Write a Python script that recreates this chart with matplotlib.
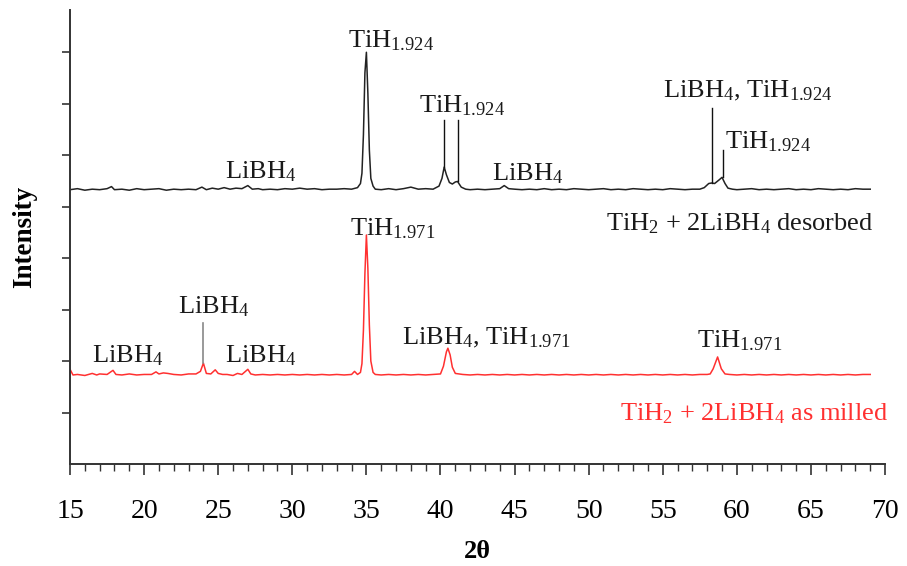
import matplotlib
matplotlib.use("Agg")
import matplotlib.pyplot as plt
import numpy as np

# XRD patterns (intensity in arbitrary offset units)
desorbed_2theta = [15.0, 15.5, 16.0, 16.5, 17.0, 17.5, 17.8, 18.0, 18.5, 19.0, 19.5, 20.0, 20.5, 21.0,
                   21.5, 22.0, 22.5, 23.0, 23.5, 23.9, 24.2, 24.6, 25.0, 25.4, 25.8, 26.2, 26.6, 27.0,
                   27.3, 27.7, 28.0, 28.5, 29.0, 29.5, 30.0, 30.5, 31.0, 31.5, 32.0, 32.5, 33.0, 33.5,
                   34.0, 34.4, 34.6, 34.7, 34.8, 34.9, 35.0, 35.1, 35.2, 35.3, 35.45, 35.6, 36.0, 36.5,
                   37.0, 37.5, 38.0, 38.5, 39.0, 39.5, 39.9, 40.1, 40.25, 40.4, 40.6, 40.8, 41.0, 41.15,
                   41.4, 41.7, 42.0, 42.5, 43.0, 43.5, 44.0, 44.3, 44.6, 45.0, 45.5, 46.0, 46.5, 47.0,
                   47.5, 48.0, 48.5, 49.0, 49.5, 50.0, 50.5, 51.0, 51.5, 52.0, 52.5, 53.0, 53.5, 54.0,
                   54.5, 55.0, 55.5, 56.0, 56.5, 57.0, 57.5, 57.8, 58.1, 58.3, 58.5, 58.8, 59.0, 59.2,
                   59.4, 59.7, 60.0, 60.5, 61.0, 61.5, 62.0, 62.5, 63.0, 63.5, 64.0, 64.5, 65.0, 65.5,
                   66.0, 66.5, 67.0, 67.5, 68.0, 68.5, 69.0]
desorbed_int = [5.33, 5.35, 5.32, 5.34, 5.33, 5.35, 5.39, 5.33, 5.34, 5.32, 5.35, 5.33, 5.34, 5.35,
                5.32, 5.34, 5.33, 5.34, 5.33, 5.38, 5.33, 5.36, 5.34, 5.37, 5.34, 5.36, 5.35, 5.41,
                5.34, 5.35, 5.33, 5.34, 5.33, 5.35, 5.34, 5.36, 5.34, 5.35, 5.33, 5.34, 5.34, 5.35,
                5.34, 5.37, 5.45, 5.65, 6.40, 7.60, 8.00, 7.20, 6.10, 5.55, 5.40, 5.34, 5.33, 5.35,
                5.33, 5.35, 5.38, 5.34, 5.35, 5.34, 5.40, 5.55, 5.77, 5.62, 5.47, 5.44, 5.48, 5.49,
                5.38, 5.34, 5.33, 5.34, 5.33, 5.34, 5.35, 5.41, 5.35, 5.34, 5.33, 5.34, 5.33, 5.35,
                5.33, 5.34, 5.33, 5.35, 5.34, 5.33, 5.34, 5.35, 5.33, 5.34, 5.33, 5.35, 5.34, 5.33,
                5.34, 5.33, 5.35, 5.34, 5.33, 5.34, 5.34, 5.37, 5.45, 5.46, 5.45, 5.52, 5.57, 5.45,
                5.36, 5.34, 5.33, 5.34, 5.35, 5.33, 5.34, 5.33, 5.34, 5.35, 5.33, 5.34, 5.33, 5.35,
                5.34, 5.33, 5.34, 5.33, 5.35, 5.34, 5.34]

milled_2theta = [15.0, 15.2, 15.5, 16.0, 16.5, 16.8, 17.0, 17.5, 17.9, 18.1, 18.5, 19.0, 19.5, 20.0,
                 20.5, 20.8, 21.0, 21.3, 21.6, 22.0, 22.5, 23.0, 23.5, 23.8, 24.0, 24.2, 24.5, 24.8,
                 25.0, 25.3, 25.6, 26.0, 26.3, 26.6, 27.0, 27.2, 27.5, 28.0, 28.5, 29.0, 29.5, 30.0,
                 30.5, 31.0, 31.5, 32.0, 32.5, 33.0, 33.5, 34.0, 34.2, 34.4, 34.6, 34.7, 34.8, 34.9,
                 35.0, 35.1, 35.2, 35.3, 35.45, 35.6, 36.0, 36.5, 37.0, 37.5, 38.0, 38.5, 39.0, 39.5, 40.0,
                 40.2, 40.4, 40.5, 40.65, 40.8, 41.0, 41.5, 42.0, 42.5, 43.0, 43.5, 44.0, 44.5, 45.0,
                 45.5, 46.0, 46.5, 47.0, 47.5, 48.0, 48.5, 49.0, 49.5, 50.0, 50.5, 51.0, 51.5, 52.0,
                 52.5, 53.0, 53.5, 54.0, 54.5, 55.0, 55.5, 56.0, 56.5, 57.0, 57.5, 58.0, 58.2, 58.4,
                 58.7, 58.95, 59.2, 59.5, 60.0, 60.5, 61.0, 61.5, 62.0, 62.5, 63.0, 63.5, 64.0, 64.5,
                 65.0, 65.5, 66.0, 66.5, 67.0, 67.5, 68.0, 68.5, 69.0]
milled_int = [1.84, 1.73, 1.74, 1.72, 1.76, 1.73, 1.75, 1.74, 1.82, 1.74, 1.73, 1.75, 1.73, 1.74,
              1.74, 1.79, 1.75, 1.77, 1.76, 1.74, 1.73, 1.75, 1.75, 1.80, 1.96, 1.76, 1.75, 1.83,
              1.76, 1.74, 1.74, 1.72, 1.76, 1.74, 1.84, 1.75, 1.73, 1.74, 1.73, 1.74, 1.73, 1.74,
              1.73, 1.74, 1.73, 1.74, 1.73, 1.74, 1.73, 1.74, 1.80, 1.74, 1.78, 1.95, 2.60, 3.70,
              4.45, 3.80, 2.70, 2.00, 1.78, 1.74, 1.73, 1.74, 1.73, 1.74, 1.73, 1.74, 1.73, 1.74, 1.75,
              1.90, 2.18, 2.25, 2.12, 1.88, 1.76, 1.74, 1.73, 1.74, 1.73, 1.74, 1.73, 1.74, 1.73,
              1.74, 1.73, 1.74, 1.73, 1.74, 1.73, 1.74, 1.73, 1.74, 1.73, 1.74, 1.73, 1.74, 1.73,
              1.74, 1.73, 1.74, 1.73, 1.74, 1.73, 1.74, 1.73, 1.74, 1.73, 1.74, 1.74, 1.75, 1.85,
              2.08, 1.85, 1.75, 1.74, 1.73, 1.74, 1.73, 1.74, 1.73, 1.74, 1.73, 1.74, 1.73, 1.74,
              1.73, 1.74, 1.73, 1.74, 1.73, 1.74, 1.73, 1.74, 1.74]

# peak marker lines: (2theta, bottom, top)
desorbed_markers = [(40.25, 5.77, 6.68), (41.15, 5.49, 6.68), (58.3, 5.46, 6.91), (59.05, 5.57, 6.10)]
milled_markers = [(24.0, 1.96, 2.74)]

plt.rcParams['font.family'] = ['Liberation Serif', 'DejaVu Serif']
plt.rcParams['mathtext.fontset'] = 'custom'
plt.rcParams['mathtext.rm'] = 'Liberation Serif'
plt.rcParams['mathtext.it'] = 'Liberation Serif:italic'
plt.rcParams['mathtext.bf'] = 'Liberation Serif:bold'

red = "#ff3030"
dark = "#1a1a1a"

fig = plt.figure(figsize=(9.07, 5.66), dpi=100)
ax = fig.add_axes([0.0772, 0.1802, 0.8986, 0.802])

ax.plot(desorbed_2theta, desorbed_int, color="#222222", lw=1.1)
ax.plot(milled_2theta, milled_int, color=red, lw=1.1)

for x, lo, hi in desorbed_markers:
    ax.plot([x, x], [lo, hi], color="#111111", lw=1.0)
for x, lo, hi in milled_markers:
    ax.plot([x, x], [lo, hi], color="#888888", lw=1.2)

fs = 19
def lab(x, y, s, **kw):
    kw.setdefault("color", dark)
    kw.setdefault("ha", "left")
    ax.text(x, y, s, fontsize=fs, va="baseline", **kw)

# desorbed pattern labels
lab(33.76, 8.10, r"TiH$_{\mathrm{1.924}}$")
lab(38.55, 6.83, r"TiH$_{\mathrm{1.924}}$")
lab(25.46, 5.55, r"LiBH$_{\mathrm{4}}$")
lab(43.48, 5.51, r"LiBH$_{\mathrm{4}}$")
lab(55.01, 7.13, r"LiBH$_{\mathrm{4}}$, TiH$_{\mathrm{1.924}}$")
lab(59.20, 6.14, r"TiH$_{\mathrm{1.924}}$")
lab(69.18, 4.54, r"TiH$_{\mathrm{2}}$ + 2LiBH$_{\mathrm{4}}$ desorbed", ha="right")

# as-milled pattern labels
lab(33.89, 4.45, r"TiH$_{\mathrm{1.971}}$")
lab(22.29, 2.93, r"LiBH$_{\mathrm{4}}$")
lab(16.48, 1.98, r"LiBH$_{\mathrm{4}}$")
lab(25.46, 1.98, r"LiBH$_{\mathrm{4}}$")
lab(37.40, 2.33, r"LiBH$_{\mathrm{4}}$, TiH$_{\mathrm{1.971}}$")
lab(57.31, 2.27, r"TiH$_{\mathrm{1.971}}$")
lab(70.2, 0.85, r"TiH$_{\mathrm{2}}$ + 2LiBH$_{\mathrm{4}}$ as milled", ha="right", color=red)

ax.set_xlim(15, 70)
ax.set_ylim(0, 8.82)
ax.set_xticks(np.arange(15, 71, 5))
ax.set_xticks(np.arange(15, 71, 1), minor=True)
ax.set_yticks(np.arange(1, 9, 1))
ax.set_yticklabels([])
ax.tick_params(axis="x", which="major", direction="out", length=8, width=1.2, labelsize=20, pad=17, colors="#333333", labelcolor="black")
ax.tick_params(axis="x", which="minor", direction="out", length=5, width=1.0, colors="#333333")
ax.tick_params(axis="y", direction="out", length=6, width=1.2, colors="#333333")
for side in ["top", "right"]:
    ax.spines[side].set_visible(False)
for side in ["left", "bottom"]:
    ax.spines[side].set_color("#333333")
    ax.spines[side].set_linewidth(1.4)

ax.set_xlabel("2θ", fontsize=19, fontweight="bold", labelpad=12)
ax.set_ylabel("Intensity", fontsize=19.5, fontweight="bold", labelpad=14)

fig.savefig("out.png", dpi=100)
